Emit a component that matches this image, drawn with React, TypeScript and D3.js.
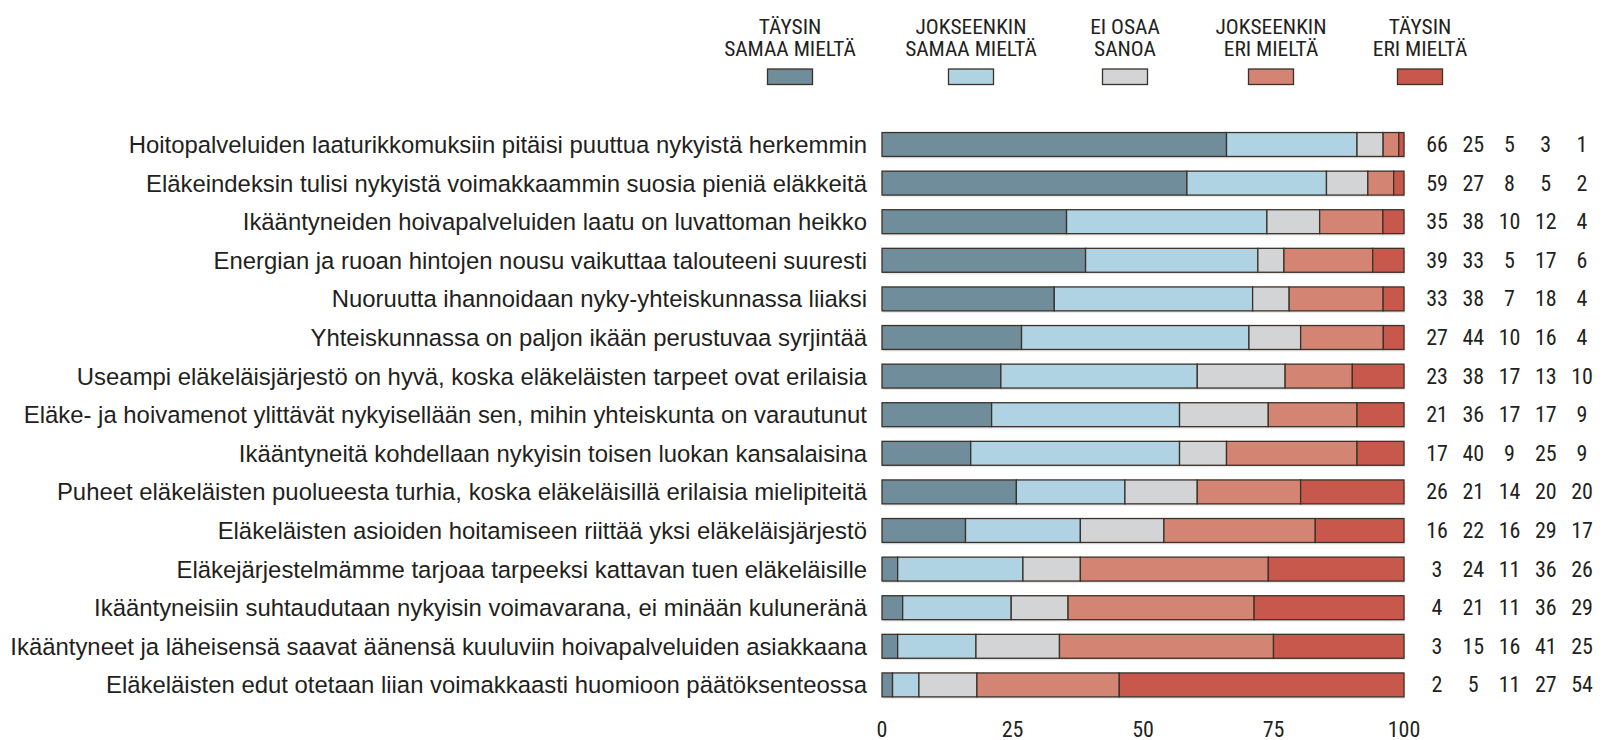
import React from "react";
import * as d3 from "d3";

const categories = [
  "Hoitopalveluiden laaturikkomuksiin pitäisi puuttua nykyistä herkemmin",
  "Eläkeindeksin tulisi nykyistä voimakkaammin suosia pieniä eläkkeitä",
  "Ikääntyneiden hoivapalveluiden laatu on luvattoman heikko",
  "Energian ja ruoan hintojen nousu vaikuttaa talouteeni suuresti",
  "Nuoruutta ihannoidaan nyky-yhteiskunnassa liiaksi",
  "Yhteiskunnassa on paljon ikään perustuvaa syrjintää",
  "Useampi eläkeläisjärjestö on hyvä, koska eläkeläisten tarpeet ovat erilaisia",
  "Eläke- ja hoivamenot ylittävät nykyisellään sen, mihin yhteiskunta on varautunut",
  "Ikääntyneitä kohdellaan nykyisin toisen luokan kansalaisina",
  "Puheet eläkeläisten puolueesta turhia, koska eläkeläisillä erilaisia mielipiteitä",
  "Eläkeläisten asioiden hoitamiseen riittää yksi eläkeläisjärjestö",
  "Eläkejärjestelmämme tarjoaa tarpeeksi kattavan tuen eläkeläisille",
  "Ikääntyneisiin suhtaudutaan nykyisin voimavarana, ei minään kuluneränä",
  "Ikääntyneet ja läheisensä saavat äänensä kuuluviin hoivapalveluiden asiakkaana",
  "Eläkeläisten edut otetaan liian voimakkaasti huomioon päätöksenteossa",
];

const taysinSamaa = [66, 59, 35, 39, 33, 27, 23, 21, 17, 26, 16, 3, 4, 3, 2];
const jokseenkinSamaa = [25, 27, 38, 33, 38, 44, 38, 36, 40, 21, 22, 24, 21, 15, 5];
const eiOsaa = [5, 8, 10, 5, 7, 10, 17, 17, 9, 14, 16, 11, 11, 16, 11];
const jokseenkinEri = [3, 5, 12, 17, 18, 16, 13, 17, 25, 20, 29, 36, 36, 41, 27];
const taysinEri = [1, 2, 4, 6, 4, 4, 10, 9, 9, 20, 17, 26, 29, 25, 54];

const seriesLabels = [
  ["TÄYSIN", "SAMAA MIELTÄ"],
  ["JOKSEENKIN", "SAMAA MIELTÄ"],
  ["EI OSAA", "SANOA"],
  ["JOKSEENKIN", "ERI MIELTÄ"],
  ["TÄYSIN", "ERI MIELTÄ"],
];
const seriesColors = ["#6f8d9b", "#afd3e3", "#d3d4d6", "#d48473", "#c8584c"];
const axisTicks = [0, 25, 50, 75, 100];

const seriesValues = [taysinSamaa, jokseenkinSamaa, eiOsaa, jokseenkinEri, taysinEri];

const W = 1615;
const H = 740;
const textColor = "#231f20";
const strokeColor = "#3b3128";
const condensed = "'Liberation Sans Narrow', 'Arial Narrow', 'Roboto Condensed', 'Liberation Sans', sans-serif";
const regular = "'Liberation Sans', Arial, Helvetica, sans-serif";

export default function App() {
  const x = d3.scaleLinear().domain([0, 100]).range([882, 1404]);
  const y = d3
    .scaleBand<number>()
    .domain(d3.range(categories.length))
    .range([125.2, 704.2])
    .paddingInner(0.38)
    .paddingOuter(0.19);

  const rows = categories.map((c, i) => {
    const vals = seriesValues.map((s) => s[i]);
    const total = d3.sum(vals);
    let acc = 0;
    const segs = vals.map((v, k) => {
      const start = (acc / total) * 100;
      acc += v;
      const end = (acc / total) * 100;
      return { k, start, end, v };
    });
    return { c, i, vals, segs };
  });

  const numX = d3.scalePoint<number>().domain(d3.range(5)).range([1437, 1582]);
  const legendX = [790, 971, 1125, 1271, 1420];
  const bh = y.bandwidth();

  return (
    <svg
      width={W}
      height={H}
      style={{ position: "absolute", left: 0, top: 0, background: "#fff" }}
    >
      {/* legend */}
      {seriesLabels.map((lab, k) => (
        <g key={k} transform={`translate(${legendX[k]},0)`}>
          <g transform="scale(1.1,1)">
            <text
              y={27}
              textAnchor="middle"
              dominantBaseline="central"
              fontFamily={condensed}
              fontSize={19.5}
              fill={textColor}
            >
              {lab[0]}
            </text>
            <text
              y={49}
              textAnchor="middle"
              dominantBaseline="central"
              fontFamily={condensed}
              fontSize={19.5}
              fill={textColor}
            >
              {lab[1]}
            </text>
          </g>
          <rect
            x={-22.5}
            y={69}
            width={45}
            height={15.5}
            fill={seriesColors[k]}
            stroke={strokeColor}
            strokeWidth={1.3}
          />
        </g>
      ))}

      {rows.map((r) => {
        const top = y(r.i)!;
        const cy = top + bh / 2;
        return (
          <g key={r.i}>
            <text
              x={867}
              y={cy}
              textAnchor="end"
              dominantBaseline="central"
              fontFamily={regular}
              fontSize={23.9}
              fill={textColor}
            >
              {r.c}
            </text>
            <rect
              x={x(0) + 1}
              y={top + 2}
              width={x(100) - x(0)}
              height={bh}
              fill="#cfcfcf"
              opacity={0.5}
            />
            {r.segs.map((s) => (
              <rect
                key={s.k}
                x={x(s.start)}
                y={top}
                width={Math.max(0, x(s.end) - x(s.start))}
                height={bh}
                fill={seriesColors[s.k]}
                stroke={strokeColor}
                strokeWidth={1.3}
              />
            ))}
            {r.vals.map((v, k) => (
              <text
                key={k}
                x={numX(k)}
                y={cy}
                textAnchor="middle"
                dominantBaseline="central"
                fontFamily={condensed}
                fontSize={22}
                fill={textColor}
              >
                {v}
              </text>
            ))}
          </g>
        );
      })}

      {axisTicks.map((t) => (
        <text
          key={t}
          x={x(t)}
          y={729}
          textAnchor="middle"
          dominantBaseline="central"
          fontFamily={condensed}
          fontSize={22}
          fill={textColor}
        >
          {t}
        </text>
      ))}
    </svg>
  );
}
